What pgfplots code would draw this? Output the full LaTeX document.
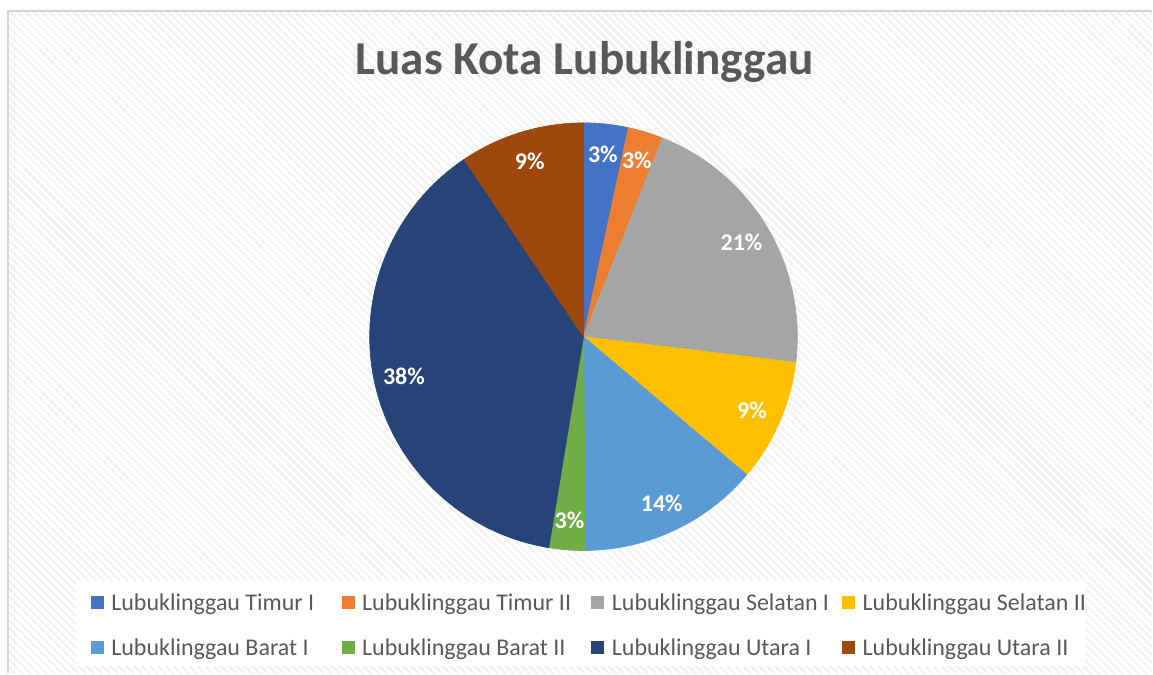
\documentclass[border=0pt]{standalone}
\usepackage{pgfplots}
\pgfplotsset{compat=1.18}
\usepackage{pgfplotstable}
\usepackage{fontspec}
\setmainfont{Carlito}
\usetikzlibrary{patterns.meta}
\definecolor{c1}{HTML}{4472C4}
\definecolor{c2}{HTML}{ED7D31}
\definecolor{c3}{HTML}{A5A5A5}
\definecolor{c4}{HTML}{FFC000}
\definecolor{c5}{HTML}{5B9BD5}
\definecolor{c6}{HTML}{70AD47}
\definecolor{c7}{HTML}{264478}
\definecolor{c8}{HTML}{9E480E}
\definecolor{txt}{HTML}{595959}

\pgfplotstableread[col sep=comma]{
name,area,col
Lubuklinggau Timur I,13.51,c1
Lubuklinggau Timur II,10.62,c2
Lubuklinggau Selatan I,83.96,c3
Lubuklinggau Selatan II,37.11,c4
Lubuklinggau Barat I,54.91,c5
Lubuklinggau Barat II,11.05,c6
Lubuklinggau Utara I,152.45,c7
Lubuklinggau Utara II,37.89,c8
}\data

\tikzset{
  lbl/.style={text=white, font=\fontsize{12}{14}\selectfont\bfseries, inner sep=0pt},
  leg/.style={text=txt, font=\fontsize{12}{14}\selectfont, anchor=base west, inner sep=0pt},
}

\begin{document}
\begin{tikzpicture}
\begin{axis}[width=576.5pt, height=337pt, scale only axis,
  xmin=0, xmax=1153, ymin=0, ymax=674, hide axis, clip=false]
% background
\fill[white] (axis cs:0,0) rectangle (axis cs:1153,674);
\fill[pattern={Lines[angle=-45,distance=2.8pt,line width=1.1pt]}, pattern color=black!5]
  (axis cs:9,0) rectangle (axis cs:1153,662);
\draw[black!16, line width=1pt] (axis cs:8,0) -- (axis cs:8,663) -- (axis cs:1153,663);
\fill[white] (axis cs:76,7) rectangle (axis cs:1086,93);
% title
\node[anchor=base, text=txt, font=\fontsize{23.6}{28}\selectfont\bfseries, inner sep=0pt]
  at (axis cs:585,599) {Luas Kota Lubuklinggau};
% total
\def\total{0}
\pgfplotsforeachungrouped \i in {0,1,2,3,4,5,6,7}{%
  \pgfplotstablegetelem{\i}{area}\of\data
  \pgfmathsetmacro\total{\total+\pgfplotsretval}%
}
% slices
\def\cum{0}
\pgfplotsforeachungrouped \i in {0,1,2,3,4,5,6,7}{%
  \pgfplotstablegetelem{\i}{area}\of\data \let\v\pgfplotsretval
  \pgfplotstablegetelem{\i}{col}\of\data \let\c\pgfplotsretval
  \pgfmathsetmacro\fa{\cum/\total}%
  \pgfmathsetmacro\fb{(\cum+\v)/\total}%
  \pgfmathsetmacro\a{90-360*\fa}%
  \pgfmathsetmacro\b{90-360*\fb}%
  \pgfmathsetmacro\sx{584+214*cos(\a)}%
  \pgfmathsetmacro\sy{337+214*sin(\a)}%
  \edef\temp{\noexpand\fill[\c, draw=\c, line width=0.3pt] (axis cs:584,337) -- (axis cs:\sx,\sy) arc[start angle=\a, end angle=\b, radius=107pt] -- cycle;}%
  \temp
  \pgfmathsetmacro\cum{\cum+\v}%
}
\def\cum{0}
\pgfplotsforeachungrouped \i in {0,1,2,3,4,5,6,7}{%
  \pgfplotstablegetelem{\i}{area}\of\data \let\v\pgfplotsretval
  \pgfmathsetmacro\fa{\cum/\total}%
  \pgfmathsetmacro\fb{(\cum+\v)/\total}%
  \pgfmathsetmacro\m{90-180*(\fa+\fb)}%
  \pgfmathtruncatemacro\p{round(100*(\fb-\fa))}%
  \pgfmathsetmacro\lx{584+184*cos(\m)}%
  \pgfmathsetmacro\ly{337+184*sin(\m)}%
  \edef\temp{\noexpand\node[lbl] at (axis cs:\lx,\ly) {\p\noexpand\%};}%
  \temp
  \pgfmathsetmacro\cum{\cum+\v}%
}
% legend
\fill[c1] (axis cs:91,64) rectangle (axis cs:104,77);
\node[leg] at (axis cs:111,63) {Lubuklinggau Timur I};
\fill[c2] (axis cs:342,64) rectangle (axis cs:355,77);
\node[leg] at (axis cs:362,63) {Lubuklinggau Timur II};
\fill[c3] (axis cs:592,64) rectangle (axis cs:605,77);
\node[leg] at (axis cs:612,63) {Lubuklinggau Selatan I};
\fill[c4] (axis cs:843,64) rectangle (axis cs:856,77);
\node[leg] at (axis cs:863,63) {Lubuklinggau Selatan II};
\fill[c5] (axis cs:91,19) rectangle (axis cs:104,32);
\node[leg] at (axis cs:111,18) {Lubuklinggau Barat I};
\fill[c6] (axis cs:342,19) rectangle (axis cs:355,32);
\node[leg] at (axis cs:362,18) {Lubuklinggau Barat II};
\fill[c7] (axis cs:592,19) rectangle (axis cs:605,32);
\node[leg] at (axis cs:612,18) {Lubuklinggau Utara I};
\fill[c8] (axis cs:843,19) rectangle (axis cs:856,32);
\node[leg] at (axis cs:863,18) {Lubuklinggau Utara II};
\end{axis}
\end{tikzpicture}
\end{document}
